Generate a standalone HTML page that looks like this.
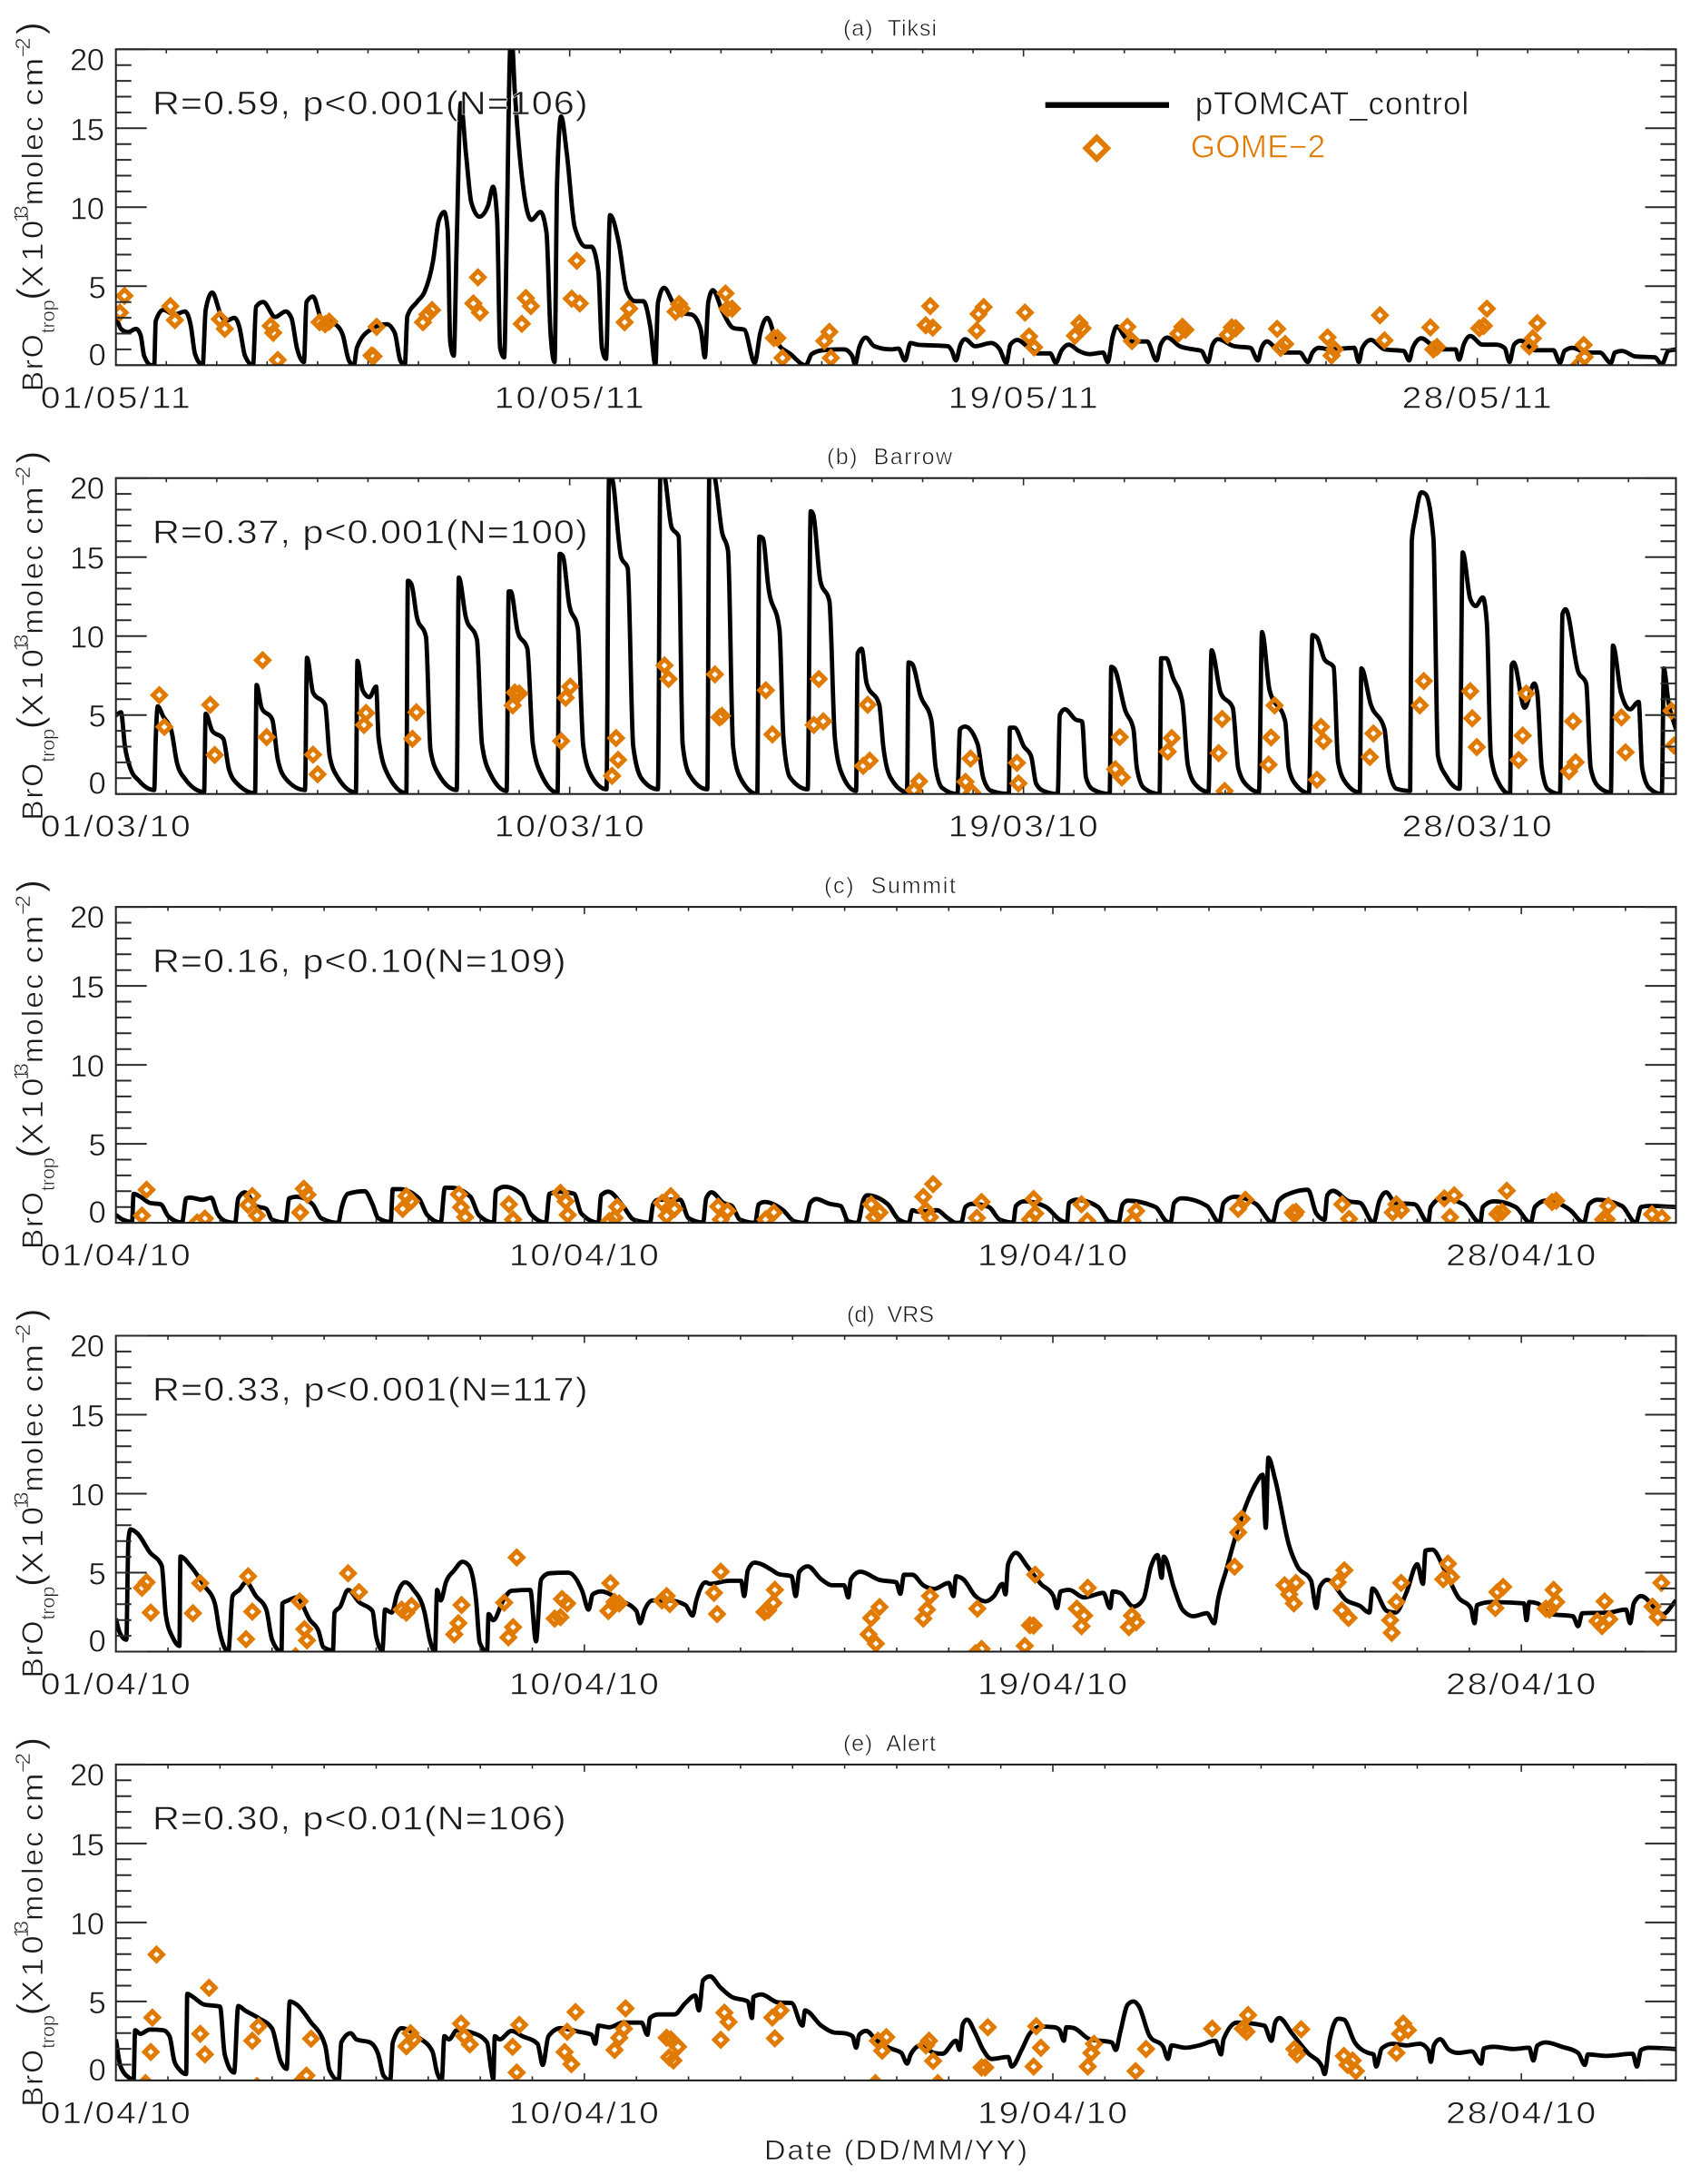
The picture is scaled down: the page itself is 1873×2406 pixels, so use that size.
<!DOCTYPE html>
<html lang="en">
<head>
<meta charset="utf-8">
<title>BrO trop: pTOMCAT_control vs GOME-2</title>
<style>
html,body{margin:0;padding:0;background:#fff;}
svg{display:block;}
text{font-family:"Liberation Sans",sans-serif;fill:#1a1a1a;stroke:#fff;stroke-width:.6px;white-space:pre;}
</style>
</head>
<body>
<svg id="chart" xmlns="http://www.w3.org/2000/svg" width="1873" height="2406" viewBox="0 0 1873 2406"></svg>
<script>
/* ---------- Tick labels ---------- */
const yTickValues = [0, 5, 10, 15, 20];
const tiksiDates = ["01/05/11", "10/05/11", "19/05/11", "28/05/11"];
const barrowDates = ["01/03/10", "10/03/10", "19/03/10", "28/03/10"];
const aprilDates = ["01/04/10", "10/04/10", "19/04/10", "28/04/10"];

/* ---------- pTOMCAT_control series: [day, value] ---------- */
const tiksiModel = [[0,3.1],[.1,2.3],[.24,2.1],[.4,2.3],[.49,1.9],[.56,.6],[.7,0],[.76,0],[.79,2.8],[.94,3.5],[1.16,3.2],[1.37,3.4],[1.48,2.6],[1.57,.7],[1.72,0],[1.78,3.5],[1.91,4.6],[2.08,3.2],[2.18,2.8],[2.35,3],[2.45,2.4],[2.56,.6],[2.72,0],[2.78,3.7],[2.92,4],[3.16,3.05],[3.37,3.4],[3.48,3],[3.59,1.1],[3.73,.2],[3.78,4],[3.91,4.35],[4.07,3],[4.35,2.6],[4.5,1.9],[4.62,.3],[4.72,0],[4.78,1.1],[5.05,2.25],[5.37,2.6],[5.53,2.05],[5.64,.3],[5.73,0],[5.78,3.1],[5.97,4],[6.13,4.7],[6.29,6.6],[6.4,9.1],[6.51,9.7],[6.58,8.6],[6.63,1.5],[6.7,.6],[6.76,7.8],[6.84,16.6],[6.94,13.5],[7.05,10.3],[7.21,9.4],[7.38,10.1],[7.48,11.3],[7.56,9.3],[7.62,1.1],[7.7,.5],[7.75,7.8],[7.82,20.1],[7.85,20.7],[7.91,17.4],[8.08,11.2],[8.24,9.2],[8.42,9.7],[8.54,8.4],[8.62,2],[8.7,.2],[8.75,11.6],[8.83,15.75],[8.94,13.5],[9.1,8.75],[9.32,7.5],[9.43,7.5],[9.57,5.9],[9.64,1.1],[9.72,.4],[9.8,9.5],[9.97,7.8],[10.13,4.7],[10.3,4.05],[10.46,4.05],[10.6,2.4],[10.7,0],[10.75,3.95],[10.87,4.9],[11.05,3.95],[11.2,3.3],[11.42,3.2],[11.6,2.25],[11.68,.5],[11.75,4],[11.84,4.75],[12.03,3.4],[12.25,2.35],[12.46,2.25],[12.67,.15],[12.78,2.05],[12.92,3],[13.1,1.5],[13.38,.7],[13.68,0],[13.8,.7],[14.02,.95],[14.34,1],[14.44,1],[14.6,.6],[14.66,.05],[14.74,1.1],[14.87,1.75],[15.04,1.2],[15.36,1],[15.52,1.05],[15.65,.3],[15.76,1.4],[15.9,1.3],[16.5,1.2],[16.58,.9],[16.66,.3],[16.75,1.3],[16.84,1.65],[17.04,1.2],[17.36,1.4],[17.53,1],[17.66,.15],[17.74,1.3],[17.88,1.6],[18.07,1.2],[18.28,.75],[18.53,.75],[18.64,.15],[18.75,.9],[18.9,1.3],[19.1,.9],[19.31,.7],[19.58,.8],[19.67,.2],[19.77,1.85],[19.85,2.45],[20.02,1.75],[20.18,1.5],[20.45,1.5],[20.64,.3],[20.72,1.3],[20.85,1.75],[21.1,1.2],[21.37,1],[21.53,.9],[21.66,.2],[21.75,1.3],[21.86,1.65],[22.18,1.2],[22.5,1.1],[22.65,.3],[22.72,1.1],[22.83,1.5],[22.99,1.1],[23.1,.8],[23.48,.8],[23.64,.2],[23.73,.8],[23.86,1.1],[24.08,1],[24.56,1.1],[24.65,.2],[24.72,1.1],[24.89,1.6],[25.16,1],[25.54,.9],[25.65,.3],[25.72,1.1],[25.89,1.7],[26.13,1.2],[26.29,1],[26.57,1],[26.64,.35],[26.73,1.3],[26.86,1.85],[27.1,1.3],[27.37,1.3],[27.54,1.1],[27.64,.2],[27.73,1.3],[27.86,1.55],[28.14,.95],[28.51,.95],[28.64,.15],[28.73,.9],[28.89,1.1],[29.16,.8],[29.43,.8],[29.65,.15],[29.73,.8],[29.87,.9],[30.14,.55],[30.52,.5],[30.66,.05],[30.79,.9],[30.94,1]];

const barrowModel = [[0,4.98],[.1,5.17],[.18,3],[.29,1.6],[.45,.86],[.76,.25],[.79,3.5],[.83,5.55],[.94,4.9],[1.1,4],[1.21,2],[1.37,.96],[1.75,.13],[1.78,5.08],[1.91,4],[2.13,3.5],[2.24,1.6],[2.4,.67],[2.76,.06],[2.79,6.9],[2.89,5.46],[3.1,4.73],[3.21,2.2],[3.37,.96],[3.75,.25],[3.79,8.62],[3.91,6.42],[4.15,5.65],[4.24,2.4],[4.4,1.05],[4.76,.1],[4.79,8.43],[4.89,6.6],[5.03,6.13],[5.16,6.8],[5.21,3.54],[5.39,1.25],[5.76,.06],[5.79,13.5],[5.86,13.3],[5.97,11.2],[6.15,9.96],[6.24,2.78],[6.4,1.25],[6.76,.25],[6.8,13.7],[6.94,11.2],[7.16,9.77],[7.26,3.16],[7.43,1.25],[7.75,.2],[7.79,12.83],[7.83,12.83],[7.97,10.25],[8.16,9.2],[8.27,3.16],[8.45,1.15],[8.76,.1],[8.8,15.2],[8.86,15.1],[8.99,12],[9.16,10.5],[9.27,3],[9.43,1.15],[9.73,.3],[9.78,20],[9.83,20],[10.02,15],[10.15,14.3],[10.26,3],[10.43,.96],[10.75,.3],[10.8,20.8],[10.89,20],[11.02,16.9],[11.16,16.3],[11.24,3.16],[11.37,1.25],[11.73,.3],[11.77,20.8],[11.88,20],[12.02,16.6],[12.14,15.4],[12.24,3],[12.38,1.05],[12.72,0],[12.76,16.3],[12.83,16.2],[12.94,13.1],[13.16,10.4],[13.24,3.5],[13.37,1.05],[13.72,.3],[13.78,17.9],[13.83,17.7],[13.97,13.5],[14.15,12.2],[14.26,3.5],[14.4,1.25],[14.68,.2],[14.71,8.9],[14.79,9.2],[14.89,7],[15.14,5.65],[15.22,3],[15.36,1.05],[15.69,.13],[15.72,8.33],[15.79,8.24],[15.96,6.2],[16.17,4.7],[16.26,1.63],[16.39,.38],[16.69,0],[16.74,4.1],[16.84,4.27],[17.09,3.16],[17.2,1.05],[17.36,.2],[17.71,0],[17.73,4.2],[17.82,4.2],[18.01,3],[18.15,2.4],[18.25,.67],[18.39,.2],[18.68,0],[18.72,5],[18.82,5.36],[19.04,4.7],[19.16,4.6],[19.24,1.05],[19.37,.3],[19.71,0],[19.74,8.05],[19.8,7.95],[20.02,5.27],[20.18,4.1],[20.25,1.63],[20.39,.38],[20.7,0],[20.73,8.6],[20.83,8.6],[20.96,7.4],[21.15,5.84],[21.26,1.8],[21.42,.57],[21.67,.13],[21.73,9.1],[21.91,6.4],[22.15,5.46],[22.26,1.63],[22.45,.48],[22.67,.13],[22.73,10.25],[22.88,6.6],[23.19,4.6],[23.26,1.63],[23.43,.48],[23.66,.06],[23.73,10.06],[23.82,9.9],[23.97,8.52],[24.15,8.05],[24.24,2],[24.4,.67],[24.67,.1],[24.7,7.95],[24.89,5.65],[25.16,4.1],[25.24,1.63],[25.4,.33],[25.67,.2],[25.7,16],[25.77,17.5],[25.89,19.1],[25.97,19],[26.13,16.2],[26.22,2.4],[26.4,1.05],[26.65,.33],[26.71,15.3],[26.86,12.36],[26.97,11.9],[27.11,12.45],[27.19,10.8],[27.27,2.4],[27.43,.67],[27.65,0],[27.68,8.14],[27.72,8.33],[27.94,5.46],[28.13,7],[28.19,6.4],[28.28,1.63],[28.4,.3],[28.64,0],[28.69,11.4],[28.75,11.7],[29,7.76],[29.16,7],[29.25,1.63],[29.4,.48],[29.65,.1],[29.69,9.4],[29.85,6.4],[30.03,5.36],[30.2,5.84],[30.27,1.63],[30.41,.38],[30.66,0],[30.7,7.95],[30.79,5.84],[30.94,4.1]];

const summitModel = [[0,.5],[.13,.2],[.31,.06],[.34,1.84],[.47,1.65],[.65,1.26],[.86,1.17],[1.01,.4],[1.27,.02],[1.35,1.55],[1.43,1.6],[1.66,1.46],[1.83,1.59],[1.95,.6],[2.11,.1],[2.29,0],[2.35,1.55],[2.48,1.93],[2.69,1.07],[2.89,.88],[3,.2],[3.26,.02],[3.33,1.55],[3.47,1.65],[3.78,1.17],[3.94,.3],[4.27,0],[4.34,1],[4.46,1.84],[4.78,2],[4.93,1.17],[5.04,.3],[5.28,.06],[5.32,2.13],[5.45,2.13],[5.82,1.55],[5.98,.5],[6.24,.02],[6.32,2.22],[6.45,2.22],[6.81,1.65],[6.97,.5],[7.26,.02],[7.3,2.03],[7.47,2.28],[7.81,1.74],[7.96,.6],[8.26,.02],[8.33,1.84],[8.54,1.97],[8.8,1.84],[8.94,.6],[9.27,.02],[9.32,1.74],[9.46,1.97],[9.74,1.07],[9.95,.2],[10.26,.02],[10.32,1.17],[10.42,1.46],[10.84,1.46],[11,.3],[11.28,.02],[11.34,1.55],[11.44,1.93],[11.67,1.26],[11.83,1.07],[11.99,.2],[12.28,0],[12.35,1.17],[12.46,1.32],[12.82,.79],[13.03,.1],[13.24,0],[13.34,1.26],[13.45,1.51],[13.71,1.2],[13.92,1.07],[14.07,.1],[14.25,0],[14.36,1.46],[14.43,1.74],[14.83,1.17],[15.04,.2],[15.23,0],[15.3,.8],[15.41,.7],[15.77,.8],[15.98,.3],[16.14,0],[16.24,.02],[16.32,1],[16.45,1.2],[16.77,1],[16.98,.2],[17.24,.02],[17.29,1.07],[17.45,1.36],[17.87,1],[18.13,.2],[18.27,.02],[18.31,1.26],[18.45,1.46],[18.87,1],[19.08,.1],[19.26,.02],[19.34,1.17],[19.44,1.4],[19.97,1],[20.18,.1],[20.26,.02],[20.33,1.26],[20.47,1.55],[20.96,1.07],[21.2,.02],[21.28,1.26],[21.49,1.65],[21.91,1.17],[22.22,.02],[22.33,1.36],[22.59,1.9],[22.9,2.09],[23.06,.6],[23.22,.2],[23.27,1.74],[23.38,2.03],[23.69,1.36],[23.9,1.26],[24.16,.02],[24.27,1.36],[24.4,1.93],[24.58,1.26],[24.95,1.17],[25.21,.02],[25.26,1],[25.47,1.55],[25.89,1.17],[26.21,0],[26.26,1],[26.47,1.36],[26.89,1],[27.18,0],[27.26,1],[27.47,1.4],[27.94,.8],[28.2,0],[28.3,1.17],[28.46,1.46],[28.93,1.07],[29.2,0],[29.3,1],[29.46,1.07],[29.97,1]];

const vrsModel = [[0,2.09],[.07,1.23],[.2,.75],[.24,7.07],[.28,7.74],[.41,7.49],[.65,6.3],[.88,5.44],[.96,2.28],[1.1,.84],[1.22,.36],[1.24,6.02],[1.43,5.44],[1.69,4.2],[1.9,3.05],[1.99,1.32],[2.16,0],[2.24,3.52],[2.37,3.91],[2.5,4.39],[2.69,3.52],[2.89,2.66],[3,.75],[3.18,0],[3.2,3.05],[3.31,3.24],[3.47,3.43],[3.73,1.99],[3.89,1.32],[3.99,.27],[4.17,.08],[4.2,2.47],[4.31,2.85],[4.46,3.91],[4.67,3.14],[4.93,2.57],[5,.94],[5.12,.08],[5.17,2.66],[5.3,2.47],[5.4,3.62],[5.56,4.39],[5.72,3.91],[5.93,2.47],[6.03,.75],[6.13,0],[6.17,3.91],[6.24,3.24],[6.34,4.39],[6.5,5.15],[6.66,5.69],[6.78,5.44],[6.92,3.24],[6.99,.56],[7.13,0],[7.16,2.38],[7.25,1.99],[7.44,3.24],[7.6,3.85],[7.96,3.91],[8.07,.65],[8.17,4.58],[8.33,4.96],[8.69,5],[8.96,3.81],[9.08,2.66],[9.16,3.62],[9.32,3.81],[9.69,3.24],[10,2.57],[10.07,1.8],[10.16,2.66],[10.31,3.24],[10.63,3.24],[10.94,2.95],[11.08,2.28],[11.15,3.24],[11.33,4.39],[11.41,4.29],[11.78,4.48],[12.01,4.48],[12.07,3.52],[12.14,5.15],[12.27,5.63],[12.61,5.15],[12.72,4.92],[12.98,4.77],[13.06,3.52],[13.13,5.06],[13.29,5.4],[13.55,4.58],[13.76,4.2],[13.99,4.2],[14.07,3.43],[14.12,4.58],[14.3,5.06],[14.67,4.54],[14.99,4.39],[15.07,3.66],[15.14,4.87],[15.3,4.87],[15.51,4.2],[15.72,3.97],[16,4.35],[16.09,3.52],[16.14,4.77],[16.28,4.58],[16.51,3.52],[16.7,3.18],[16.87,3.52],[17.03,4.29],[17.09,3.62],[17.14,5.54],[17.29,6.26],[17.5,5.44],[17.77,4.29],[18.01,3.52],[18.08,2.76],[18.15,3.81],[18.31,3.91],[18.6,3.43],[18.97,3.72],[19.1,2.76],[19.15,3.81],[19.29,3.72],[19.55,2.85],[19.74,3.33],[19.88,5.34],[20.01,6.11],[20.09,4.67],[20.13,6.01],[20.33,4],[20.49,2.66],[20.7,2.24],[20.96,2.43],[21.1,1.8],[21.17,3.24],[21.33,5.15],[21.49,7.07],[21.77,9.75],[21.91,10.7],[22.03,11.2],[22.09,7.84],[22.14,12.28],[22.27,10.9],[22.54,6.69],[22.69,5.44],[22.96,4.48],[23.06,2.76],[23.13,4.1],[23.27,4.54],[23.64,3.24],[23.9,2.89],[24.08,2.47],[24.14,4],[24.42,2.57],[24.58,2.47],[24.79,3.72],[25,5.54],[25.11,4.29],[25.16,6.4],[25.29,6.46],[25.53,5.15],[25.79,3.43],[26.03,2.76],[26.1,1.8],[26.15,2.95],[26.42,3.14],[27.05,3.05],[27.1,1.99],[27.15,3.14],[27.31,3.05],[27.57,2.38],[27.99,2.24],[28.09,1.61],[28.17,2.43],[28.67,2.47],[29.01,2.66],[29.09,1.8],[29.16,3.05],[29.3,3.52],[29.72,2.38],[29.97,3.24]];

const alertModel = [[0,2.6],[.09,.88],[.28,.11],[.34,0],[.37,3.18],[.47,2.95],[.65,3.22],[.91,3.18],[1.03,2.8],[1.12,1.26],[1.22,.69],[1.35,.4],[1.37,5.48],[1.48,5.29],[1.69,4.81],[2,4.67],[2.09,1.65],[2.27,.5],[2.35,4.71],[2.48,4.43],[2.74,3.95],[3,3.28],[3.16,1.26],[3.28,.73],[3.34,5],[3.47,4.81],[3.73,3.75],[4.02,2.22],[4.1,.69],[4.28,0],[4.33,2.41],[4.51,2.99],[4.62,2.6],[4.88,2.41],[5.04,1.65],[5.14,.31],[5.27,0],[5.32,2.41],[5.49,3.31],[5.82,2.7],[6.08,1.84],[6.17,.5],[6.26,0],[6.31,2.8],[6.4,2.6],[6.55,3.18],[6.87,2.99],[7.13,2.41],[7.21,.69],[7.25,.08],[7.28,2.8],[7.37,2.6],[7.6,3.14],[7.81,2.8],[8.1,2.32],[8.2,.98],[8.31,2.8],[8.54,3.31],[8.9,3.08],[9.14,2.89],[9.21,2.32],[9.27,3.47],[9.48,3.37],[9.74,3.66],[10.1,3.66],[10.21,2.89],[10.26,3.95],[10.42,4.18],[10.73,4.18],[10.94,4.9],[11.13,5.38],[11.2,4.43],[11.28,6.34],[11.41,6.59],[11.62,5.86],[11.83,5.29],[12.14,5],[12.22,3.95],[12.25,5.29],[12.4,5.44],[12.72,4.94],[12.98,4.9],[13.19,3.47],[13.24,4.43],[13.55,3.47],[13.81,3.03],[13.99,2.99],[14.15,2.8],[14.22,2.07],[14.28,2.89],[14.41,3.14],[14.62,2.51],[14.88,2.03],[15.09,1.74],[15.2,1.07],[15.27,1.65],[15.46,2.22],[15.72,1.74],[15.88,1.69],[16.14,2.51],[16.21,1.93],[16.27,3.56],[16.35,3.85],[16.51,2.99],[16.66,1.93],[16.82,1.36],[17.14,1.49],[17.21,.88],[17.4,1.93],[17.56,2.99],[17.77,3.41],[18.03,3.37],[18.13,3.18],[18.21,2.51],[18.26,3.37],[18.39,3.33],[18.71,2.61],[19.13,2.41],[19.21,1.93],[19.29,2.99],[19.44,4.81],[19.55,5],[19.65,4.71],[19.86,2.8],[20.12,2.13],[20.21,1.36],[20.28,2.22],[20.54,2.07],[20.81,2.22],[21.12,2.51],[21.23,1.65],[21.28,2.61],[21.54,3.66],[22.06,3.47],[22.2,2.51],[22.27,3.66],[22.35,3.95],[22.59,2.99],[22.9,1.74],[23.17,.88],[23.22,.4],[23.32,2.61],[23.48,3.91],[23.59,3.85],[23.8,2.41],[24.06,1.74],[24.16,1.65],[24.21,.88],[24.32,2.03],[24.53,2.32],[24.79,2.22],[25.05,2.32],[25.21,1.93],[25.26,1.17],[25.32,2.22],[25.44,2.61],[25.61,1.93],[25.79,1.74],[26.05,1.84],[26.23,1.07],[26.28,2.03],[26.47,2.13],[26.84,1.99],[27.15,2.07],[27.23,1.26],[27.31,2.22],[27.47,2.41],[27.78,2.13],[28.09,1.74],[28.22,.98],[28.28,1.65],[28.62,1.55],[29.14,1.69],[29.22,.88],[29.3,1.93],[29.46,2.07],[29.97,1.99]];

/* ---------- GOME-2 observations: [day, value] ---------- */
const tiksiGome = [[.17,4.39],[.08,3.33],[1.08,3.74],[1.17,2.85],[2.06,2.91],[2.16,2.3],[3.07,2.49],[3.12,2.05],[3.21,.33],[4.04,2.72],[4.15,2.59],[4.23,2.76],[5.07,.61],[5.11,.56],[5.17,2.43],[6.09,2.72],[6.18,3.2],[6.27,3.49],[7.09,3.91],[7.18,5.56],[7.22,3.33],[8.05,2.62],[8.13,4.25],[8.23,3.74],[9.04,4.21],[9.14,6.61],[9.2,3.91],[10.09,2.72],[10.18,3.58],[11.1,3.39],[11.17,3.87],[11.22,3.58],[12.09,4.54],[12.13,3.58],[12.22,3.58],[13.05,1.72],[13.12,1.72],[13.22,.46],[14.05,1.53],[14.15,2.11],[14.18,.46],[16.06,2.53],[16.15,3.74],[16.2,2.38],[17.07,2.18],[17.11,3.24],[17.21,3.68],[18.03,3.33],[18.11,1.82],[18.21,1.13],[19.02,1.86],[19.11,2.66],[19.17,2.34],[20.06,2.43],[20.15,1.53],[21.07,1.99],[21.15,2.43],[21.21,2.24],[22.05,1.92],[22.13,2.39],[22.21,2.34],[23.03,2.3],[23.1,1.09],[23.19,1.34],[24.03,1.76],[24.11,.61],[24.17,1],[25.07,3.16],[25.16,1.57],[26.07,2.39],[26.13,1],[26.2,1.15],[27.04,2.34],[27.13,2.49],[27.19,3.58],[28.03,1.19],[28.1,1.7],[28.19,2.66],[29.02,.04],[29.11,1.28],[29.13,.52]];

const barrowGome = [[.86,6.26],[.96,4.25],[1.87,5.65],[1.96,2.47],[2.91,8.47],[2.99,3.6],[3.91,2.49],[4,1.25],[4.92,4.37],[4.96,5.13],[5.88,3.49],[5.96,5.17],[7.87,5.61],[7.91,6.42],[8,6.36],[8.83,3.35],[8.92,6.09],[9.01,6.8],[9.84,1.15],[9.96,2.16],[9.92,3.54],[10.88,8.14],[10.96,7.28],[11.88,7.57],[11.97,4.85],[12.02,4.94],[12.89,6.57],[13.02,3.77],[13.84,4.37],[13.94,7.28],[14.03,4.6],[14.82,1.78],[14.95,2.11],[14.91,5.65],[15.83,.25],[15.93,.8],[16.85,.77],[16.95,2.24],[16.98,.1],[17.87,1.97],[17.9,.67],[19.82,1.57],[19.91,3.6],[19.95,1.05],[20.86,2.68],[20.94,3.54],[21.87,2.59],[21.94,4.75],[21.99,.19],[22.86,1.86],[22.91,3.58],[22.98,5.61],[23.82,.9],[23.9,4.25],[23.95,3.35],[24.87,2.34],[24.94,3.83],[25.86,5.61],[25.94,7.15],[26.86,6.51],[26.9,4.79],[26.99,2.97],[27.82,2.15],[27.9,3.7],[27.97,6.36],[28.82,1.44],[28.95,2.01],[28.9,4.6],[29.86,4.85],[29.94,2.64],[30.85,5.27],[30.9,3.07]];

const summitGome = [[.59,2.09],[.5,.46],[1.56,.02],[1.71,.27],[2.54,1.13],[2.62,1.7],[2.71,.46],[3.54,.65],[3.61,2.16],[3.68,1.78],[5.51,.88],[5.58,1.69],[5.67,1.36],[6.59,1.8],[6.63,.98],[6.71,.36],[7.55,1.17],[7.63,.21],[8.54,1.9],[8.64,1.36],[8.68,.5],[9.48,.11],[9.63,1.02],[9.58,.31],[10.49,1.26],[10.58,.44],[10.66,1.69],[10.73,.88],[11.57,1.03],[11.62,.21],[11.75,.75],[12.48,.21],[12.64,.65],[14.51,1.17],[14.57,.36],[14.67,.65],[15.51,1.65],[15.56,.79],[15.64,.36],[15.7,2.45],[16.54,.31],[16.63,1.32],[17.56,.21],[17.63,1.51],[17.66,.59],[18.55,1.17],[18.66,.11],[19.53,.11],[19.6,.75],[21.56,.88],[21.7,1.46],[22.61,.63],[22.67,.69],[22.64,.5],[23.56,1.17],[23.69,.25],[24.53,.65],[24.6,1.17],[24.69,.79],[25.52,1.55],[25.63,.36],[25.71,1.74],[26.54,.56],[26.63,.69],[26.72,2.03],[27.59,1.32],[27.67,1.4],[28.57,.21],[28.67,1.07],[28.64,.21],[29.51,.54],[29.7,.31]];

const vrsGome = [[.5,4.04],[.59,4.39],[.67,2.47],[1.48,2.43],[1.62,4.33],[2.5,.79],[2.54,4.77],[2.62,2.53],[3.45,-.3],[3.53,3.18],[3.62,1.42],[3.67,.71],[4.46,4.96],[4.67,3.77],[5.49,2.66],[5.58,2.47],[5.68,2.89],[6.5,1.09],[6.58,1.8],[6.64,2.95],[7.46,3.1],[7.54,.9],[7.63,1.55],[7.7,5.96],[8.43,2.09],[8.54,2.18],[8.57,3.33],[8.67,3.05],[9.46,2.57],[9.5,4.33],[9.58,3.14],[9.67,3.05],[10.49,3.24],[10.58,3.52],[10.64,3.01],[11.49,3.72],[11.55,2.38],[11.62,5.06],[12.46,2.51],[12.53,2.62],[12.63,3.08],[12.66,3.91],[14.46,1.09],[14.51,2.13],[14.6,.5],[14.67,2.82],[15.51,2.09],[15.58,2.66],[15.64,3.52],[16.51,-.11],[16.63,.17],[16.55,2.72],[17.46,.36],[17.56,1.67],[17.63,1.65],[17.66,4.87],[18.46,2.72],[18.55,1.61],[18.6,2.28],[18.67,4.04],[19.46,1.55],[19.52,2.28],[19.6,1.86],[21.49,5.38],[21.56,7.55],[21.63,8.41],[22.45,4.2],[22.54,3.62],[22.63,3.05],[22.67,4.35],[23.47,4.39],[23.55,2.61],[23.6,5.15],[23.68,2.13],[24.48,1.99],[24.51,1.19],[24.6,3.14],[24.69,4.35],[25.5,4.58],[25.59,5.57],[25.65,4.73],[26.5,2.76],[26.54,3.77],[26.65,4.1],[27.47,2.72],[27.54,2.66],[27.62,3.91],[27.67,3.14],[28.46,1.93],[28.55,1.61],[28.6,3.18],[28.69,2.05],[29.52,2.85],[29.62,2.18],[29.69,4.35]];

const alertGome = [[.57,-.17],[.67,1.8],[.7,3.98],[.78,7.97],[1.62,2.95],[1.71,1.65],[1.79,5.86],[2.62,2.51],[2.71,-.36],[2.74,3.43],[3.52,-.17],[3.66,.31],[3.75,2.64],[5.58,2.16],[5.66,2.99],[5.72,2.6],[6.63,3.6],[6.69,2.8],[6.8,2.28],[7.62,2.13],[7.7,.5],[7.75,3.52],[8.62,1.8],[8.67,3.08],[8.75,1.03],[8.83,4.33],[9.58,1.93],[9.67,2.7],[9.76,3.28],[9.79,4.56],[10.58,2.7],[10.63,1.46],[10.71,1.26],[10.8,2.13],[10.66,2.6],[11.62,2.57],[11.69,4.29],[11.77,3.7],[12.61,3.98],[12.66,2.66],[12.77,4.43],[14.59,-.17],[14.64,2.51],[14.72,1.88],[14.8,2.74],[15.56,2.22],[15.62,2.51],[15.7,1.23],[15.79,-.17],[16.63,.82],[16.7,.82],[16.75,3.37],[17.63,.88],[17.68,3.43],[17.77,2.07],[18.67,.88],[18.74,1.74],[18.79,2.32],[19.59,.59],[19.79,1.99],[21.06,3.28],[21.65,3.28],[21.72,3.08],[21.75,4.14],[22.64,1.99],[22.69,1.65],[22.77,3.24],[23.59,1.55],[23.66,.98],[23.76,1.26],[23.82,.59],[24.6,1.74],[24.67,2.95],[24.73,3.6],[24.82,3.18]];

/* ---------- Printed strings ---------- */
const panelTitles = ["(a)  Tiksi", "(b)  Barrow", "(c)  Summit", "(d)  VRS", "(e)  Alert"];
const statLabels = ["R=0.59, p<0.001(N=106)", "R=0.37, p<0.001(N=100)", "R=0.16, p<0.10(N=109)", "R=0.33, p<0.001(N=117)", "R=0.30, p<0.01(N=106)"];
const modelSeries = [tiksiModel, barrowModel, summitModel, vrsModel, alertModel];
const gomeSeries = [tiksiGome, barrowGome, summitGome, vrsGome, alertGome];
const dateLabels = [tiksiDates, barrowDates, aprilDates, aprilDates, aprilDates];
const axisDays = [30.94, 30.94, 29.97, 29.97, 29.97];

/* ---------- Layout ---------- */
const NS = "http://www.w3.org/2000/svg";
const root = document.getElementById("chart");
const LEFT = 127.7, RIGHT = 1846.5, PANEL_H = 348, FIRST_TOP = 54.3, PANEL_STEP = 472.4;
const Y_MAX = 20, ORANGE = "#e17a00", INK = "#1a1a1a";

function make(tag, attrs, parent) {
  const node = document.createElementNS(NS, tag);
  for (const k in attrs) node.setAttribute(k, attrs[k]);
  parent.appendChild(node);
  return node;
}
/* Natural glyph shapes, slightly widened, with extra tracking to fill the measured width */
function label(str, x, y, size, len, parent, sx) {
  const s = sx || 1.08;
  const node = make("text", {x: 0, y: 0, "font-size": size, textLength: (len / s).toFixed(2), lengthAdjust: "spacing", transform: "translate(" + x + " " + y + ") scale(" + s + " 1)"}, parent);
  node.textContent = str;
  return node;
}
function upLabel(str, baseX, startY, size, len, parent, sx) {
  const s = sx || 1.05;
  const node = make("text", {x: 0, y: 0, "font-size": size, textLength: (len / s).toFixed(2), lengthAdjust: "spacing", transform: "translate(" + baseX + " " + startY + ") rotate(-90) scale(" + s + " 1)"}, parent);
  node.textContent = str;
  return node;
}
function diamondPath(cx, cy, h) {
  return "M" + cx + " " + (cy - h) + "L" + (cx + h) + " " + cy + "L" + cx + " " + (cy + h) + "L" + (cx - h) + " " + cy + "Z";
}
/* Monotone cubic path through the data points: smooth, never overshoots */
function smoothPath(pts) {
  const n = pts.length;
  const slope = [];
  for (let i = 0; i < n - 1; i++) slope.push((pts[i + 1][1] - pts[i][1]) / (pts[i + 1][0] - pts[i][0]));
  const tan = [slope[0]];
  for (let i = 1; i < n - 1; i++) {
    const h0 = pts[i][0] - pts[i - 1][0], h1 = pts[i + 1][0] - pts[i][0];
    const s0 = slope[i - 1], s1 = slope[i];
    if (s0 * s1 <= 0) { tan.push(0); continue; }
    const p = (s0 * h1 + s1 * h0) / (h0 + h1);
    tan.push(Math.sign(s0) * 2 * Math.min(Math.abs(s0), Math.abs(s1), 0.5 * Math.abs(p)));
  }
  tan.push(slope[n - 2]);
  let d = "M" + pts[0][0].toFixed(1) + " " + pts[0][1].toFixed(1);
  for (let i = 0; i < n - 1; i++) {
    const dx = (pts[i + 1][0] - pts[i][0]) / 3;
    d += "C" + (pts[i][0] + dx).toFixed(1) + " " + (pts[i][1] + dx * tan[i]).toFixed(1) + " " +
         (pts[i + 1][0] - dx).toFixed(1) + " " + (pts[i + 1][1] - dx * tan[i + 1]).toFixed(1) + " " +
         pts[i + 1][0].toFixed(1) + " " + pts[i + 1][1].toFixed(1);
  }
  return d;
}

function drawPanel(i) {
  const top = FIRST_TOP + i * PANEL_STEP;
  const bottom = top + PANEL_H;
  const days = axisDays[i];
  const xAxis = function (t) { return LEFT + t * (RIGHT - LEFT) / days; };
  const yAxis = function (v) { return bottom - v * PANEL_H / Y_MAX; };

  const panel = make("g", {}, root);
  
  

  const clip = make("clipPath", {id: "clip" + i}, panel);
  make("rect", {x: LEFT, y: top, width: RIGHT - LEFT, height: PANEL_H}, clip);

  const titleWidths = [103, 138, 145, 96, 102];
  const titleLefts = [929, 911, 908, 933, 929];
  const title = label(panelTitles[i], titleLefts[i], top - 15, 25, titleWidths[i], panel, 1);
  
  

  /* model line */
  const modelPixels = modelSeries[i].map(function (p) { return [xAxis(p[0]), yAxis(p[1])]; });
  const line = make("path", {d: smoothPath(modelPixels), fill: "none", stroke: "#000", "stroke-width": 4.8, "stroke-linejoin": "round", "clip-path": "url(#clip" + i + ")"}, panel);
  
  

  /* GOME-2 markers */
  const markers = make("g", {"clip-path": "url(#clip" + i + ")"}, panel);
  
  
  gomeSeries[i].forEach(function (p) {
    const mark = make("path", {d: diamondPath(xAxis(p[0]), yAxis(p[1]), 6.9), fill: "none", stroke: ORANGE, "stroke-width": 5, "stroke-linejoin": "miter"}, markers);
    
    
  });

  /* frame */
  const frame = make("rect", {x: LEFT, y: top, width: RIGHT - LEFT, height: PANEL_H, fill: "none", stroke: INK, "stroke-width": 2}, panel);
  
  

  /* y ticks */
  const yTicks = make("g", {stroke: "#2a2a2a", "stroke-width": 2}, panel);
  
  
  for (let v = 0; v <= Y_MAX; v++) {
    const len = v % 5 === 0 ? 34 : 17;
    make("line", {x1: LEFT, x2: LEFT + len, y1: yAxis(v), y2: yAxis(v)}, yTicks);
    make("line", {x1: RIGHT, x2: RIGHT - len, y1: yAxis(v), y2: yAxis(v)}, yTicks);
  }

  /* y tick labels: the end labels sit inside the axis range */
  yTickValues.forEach(function (v) {
    const str = String(v);
    const width = str.length > 1 ? 38 : 17.5;
    let base = yAxis(v) + 13;
    if (v === 0) base = bottom;
    if (v === Y_MAX) base = top + 23;
    const tick = label(str, 115 - width, base, 34, width, panel, 1.02);
    
    
  });

  /* x ticks */
  const xTicks = make("g", {stroke: "#2a2a2a", "stroke-width": 1.6}, panel);
  
  
  for (let d = 0; d <= Math.floor(days); d++) {
    const len = d % 9 === 0 ? 8 : 4.5;
    make("line", {x1: xAxis(d), x2: xAxis(d), y1: top, y2: top + len}, xTicks);
    make("line", {x1: xAxis(d), x2: xAxis(d), y1: bottom, y2: bottom - len}, xTicks);
  }
  dateLabels[i].forEach(function (str, k) {
    const tick = label(str, xAxis(k * 9) - 83, bottom + 47, 33, 165, panel, 1.18);
    
    
  });

  /* statistics */
  const stat = label(statLabels[i], 168, top + 71.7, 36, statLabels[i].indexOf("0.001") > 0 ? 479.5 : 455.5, panel, 1.15);
  
  

  /* y-axis title */
  const yTitle = make("g", {}, panel);
  
  
  upLabel("BrO", 47, bottom + 29, 32, 63, yTitle);
  upLabel("trop", 60, bottom - 35, 21, 37, yTitle);
  upLabel("(", 46.6, bottom - 71.5, 40, 13, yTitle);
  upLabel("X10", 47, bottom - 85.6, 32, 74, yTitle, 1.15);
  upLabel("13", 31, bottom - 157, 22, 19, yTitle);
  upLabel("molec", 47, bottom - 176, 32, 98, yTitle);
  upLabel("cm", 47, bottom - 285.6, 32, 53, yTitle, 1.2);
  upLabel("\u22122", 33, bottom - 339, 23, 22, yTitle);
  upLabel(")", 46.6, bottom - 364, 40, 12, yTitle);
}

for (let i = 0; i < 5; i++) drawPanel(i);

/* legend in panel (a) */
const legend = make("g", {}, root);


const legendLine = make("line", {x1: 1151.7, x2: 1288, y1: 115.7, y2: 115.7, stroke: "#000", "stroke-width": 6.4}, legend);


const legendModel = label("pTOMCAT_control", 1316.7, 126, 35, 301.5, legend, 1);


const legendMark = make("path", {d: diamondPath(1208.3, 163.3, 11.75), fill: "none", stroke: ORANGE, "stroke-width": 6}, legend);


const legendGome = label("GOME\u22122", 1311.7, 173.3, 35, 148.5, legend, 1);
legendGome.setAttribute('fill', ORANGE);
legendGome.style.fill = ORANGE;



/* shared x-axis title */
const xTitle = label("Date (DD/MM/YY)", 842, 2379, 31, 290, root, 1.05);


</script>
</body>
</html>
